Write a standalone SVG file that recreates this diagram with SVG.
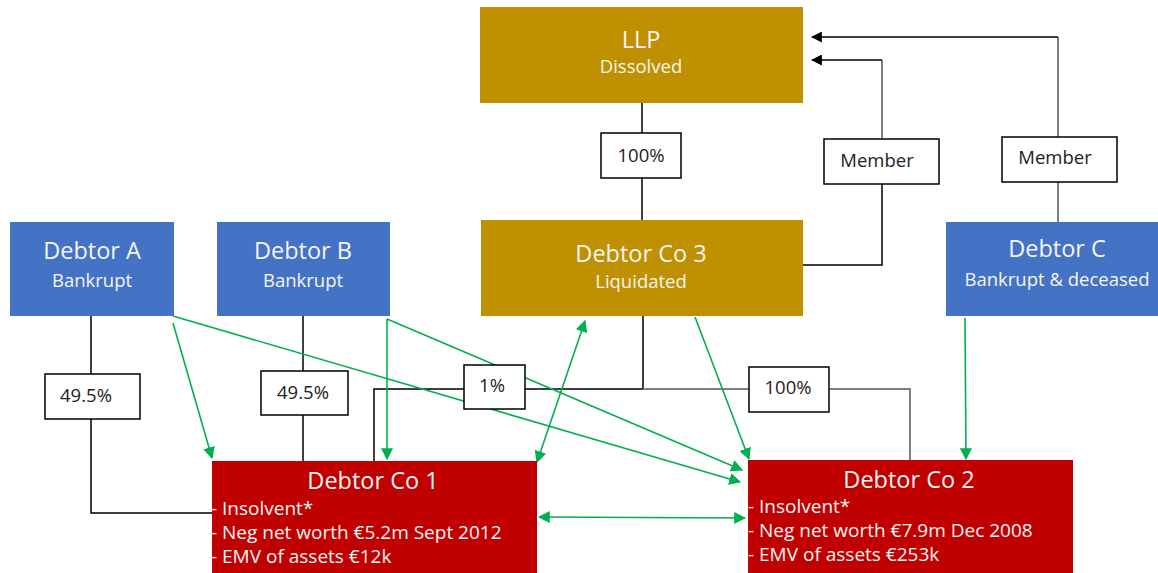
<svg xmlns="http://www.w3.org/2000/svg" width="1158" height="573" viewBox="0 0 1158 573">
  <style>
    text { font-family: "Open Sans", "Noto Sans", "DejaVu Sans", sans-serif; }
    .gold { fill: #BF9000; }
    .blue { fill: #4472C4; }
    .red { fill: #C00000; }
    .t1 { fill: #F5F5F5; font-size: 23.5px; text-anchor: middle; }
    .t2 { fill: #F5F5F5; font-size: 18.5px; text-anchor: middle; }
    .tb { fill: #F5F5F5; font-size: 19px; }
    .lbl { fill: #FFFFFF; stroke: #000000; stroke-width: 1.5; }
    .lt { fill: #222222; font-size: 18.5px; text-anchor: middle; }
    .blk { fill: none; stroke: #000000; stroke-width: 1.5; }
    .gry { fill: none; stroke: #7F7F7F; stroke-width: 2; }
    .grn { fill: none; stroke: #00B050; stroke-width: 1.6; }
  </style>
  <defs>
    <marker id="ga" viewBox="0 0 10 10" refX="9" refY="5" markerWidth="12" markerHeight="12" markerUnits="userSpaceOnUse" orient="auto-start-reverse">
      <path d="M0,0 L10,5 L0,10 z" fill="#00B050"/>
    </marker>
    <marker id="ba" viewBox="0 0 10 10" refX="9" refY="5" markerWidth="11" markerHeight="11" markerUnits="userSpaceOnUse" orient="auto">
      <path d="M0,0 L10,5 L0,10 z" fill="#000000"/>
    </marker>
  </defs>

  <g id="connectors">
    <path class="blk" d="M642,103 V220"/>
    <path class="gry" d="M882,184 V60"/>
    <path class="blk" d="M882,60 H812" marker-end="url(#ba)"/>
    <path class="blk" d="M882,184 V265 H803"/>
    <path class="gry" d="M1058,222 V37"/>
    <path class="blk" d="M1058,37 H812" marker-end="url(#ba)"/>
    <path class="blk" d="M91,316 V513 H212"/>
    <path class="blk" d="M303,316 V461"/>
    <path class="blk" d="M643,316 V389 H374 V461"/>
    <path class="gry" d="M643,389 H910 V460"/>

    <path class="grn" d="M173,323 L212,458" marker-end="url(#ga)"/>
    <path class="grn" d="M173,316 L740,482" marker-end="url(#ga)"/>
    <path class="grn" d="M387,319 L387,459" marker-end="url(#ga)"/>
    <path class="grn" d="M387,319 L742,470" marker-end="url(#ga)"/>
    <path class="grn" d="M585,321 L537,462" marker-start="url(#ga)" marker-end="url(#ga)"/>
    <path class="grn" d="M695,317 L749,459" marker-end="url(#ga)"/>
    <path class="grn" d="M965,318 L966,459" marker-end="url(#ga)"/>
    <path class="grn" d="M539,517 L745,518" marker-start="url(#ga)" marker-end="url(#ga)"/>
  </g>

  <g id="llp">
    <rect class="gold" x="480" y="7" width="323" height="96"/>
    <text class="t1" x="641" y="48">LLP</text>
    <text class="t2" x="641" y="73">Dissolved</text>
  </g>
  <g id="debtor-co-3">
    <rect class="gold" x="481" y="220" width="322" height="96"/>
    <text class="t1" x="641" y="262">Debtor Co 3</text>
    <text class="t2" x="641" y="288">Liquidated</text>
  </g>
  <g id="debtor-a">
    <rect class="blue" x="10" y="222" width="164" height="94"/>
    <text class="t1" x="92" y="259">Debtor A</text>
    <text class="t2" x="92" y="287">Bankrupt</text>
  </g>
  <g id="debtor-b">
    <rect class="blue" x="217" y="222" width="173" height="94"/>
    <text class="t1" x="303" y="259">Debtor B</text>
    <text class="t2" x="303" y="287">Bankrupt</text>
  </g>
  <g id="debtor-c">
    <rect class="blue" x="946" y="222" width="212" height="94"/>
    <text class="t1" x="1057" y="257">Debtor C</text>
    <text class="t2" x="1057" y="286">Bankrupt &amp; deceased</text>
  </g>
  <g id="debtor-co-1">
    <rect class="red" x="212" y="461" width="325" height="120"/>
    <text class="t1" x="373" y="489">Debtor Co 1</text>
    <text class="tb" x="211" y="515">- Insolvent*</text>
    <text class="tb" x="211" y="539">- Neg net worth €5.2m Sept 2012</text>
    <text class="tb" x="211" y="563">- EMV of assets €12k</text>
  </g>
  <g id="debtor-co-2">
    <rect class="red" x="748" y="460" width="325" height="120"/>
    <text class="t1" x="909" y="488">Debtor Co 2</text>
    <text class="tb" x="748" y="513">- Insolvent*</text>
    <text class="tb" x="748" y="537">- Neg net worth €7.9m Dec 2008</text>
    <text class="tb" x="748" y="561">- EMV of assets €253k</text>
  </g>

  <g id="label-100-top">
    <rect class="lbl" x="601" y="133" width="80" height="45"/>
    <text class="lt" x="641" y="162">100%</text>
  </g>
  <g id="label-member-1">
    <rect class="lbl" x="824" y="139" width="115" height="45"/>
    <text class="lt" x="877" y="167">Member</text>
  </g>
  <g id="label-member-2">
    <rect class="lbl" x="1002" y="137" width="115" height="45"/>
    <text class="lt" x="1055" y="164">Member</text>
  </g>
  <g id="label-49-a">
    <rect class="lbl" x="45" y="374" width="95" height="45"/>
    <text class="lt" x="86" y="402">49.5%</text>
  </g>
  <g id="label-49-b">
    <rect class="lbl" x="261" y="371" width="87" height="44"/>
    <text class="lt" x="303" y="399">49.5%</text>
  </g>
  <g id="label-1">
    <rect class="lbl" x="464" y="365" width="61" height="44"/>
    <text class="lt" x="492" y="392">1%</text>
  </g>
  <g id="label-100-bottom">
    <rect class="lbl" x="749" y="367" width="80" height="45"/>
    <text class="lt" x="788" y="394">100%</text>
  </g>
</svg>
